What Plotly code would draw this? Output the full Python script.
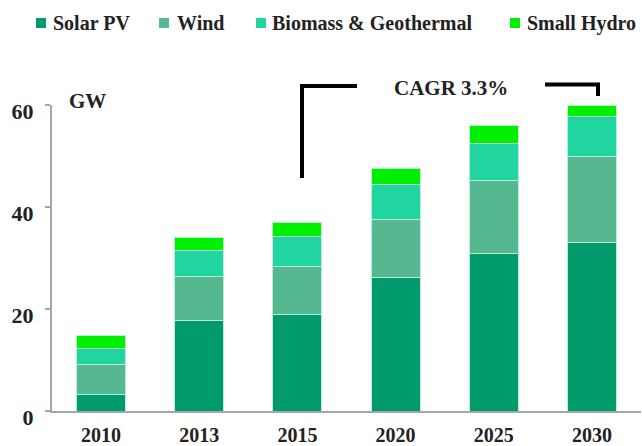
import plotly.graph_objects as go

years = ["2010", "2013", "2015", "2020", "2025", "2030"]
solar_pv = [3.3, 17.8, 19.0, 26.2, 30.8, 33.0]
wind = [5.9, 8.5, 9.3, 11.4, 14.4, 16.9]
biomass_geo = [3.0, 5.1, 6.0, 6.8, 7.3, 7.8]
small_hydro = [2.6, 2.7, 2.7, 3.2, 3.4, 2.3]

series_names = ["Solar PV", "Wind", "Biomass & Geothermal", "Small Hydro"]
series_values = [solar_pv, wind, biomass_geo, small_hydro]
series_colors = ["#009a6c", "#55b890", "#20d5a0", "#00f000"]

y_ticks = [0, 20, 40, 60]
unit_label = "GW"
cagr_label = "CAGR 3.3%"

FONT = "Liberation Serif, Times New Roman, serif"
TXT = "#222222"
AXIS = "#a6a6a6"
W, H = 642, 446
ML, MR, MT, MB = 52, 1, 105, 35
PW, PH = W - ML - MR, H - MT - MB


def px_x(p):
    return (p - ML) / PW


def px_y(p):
    return (H - MB - p) / PH


fig = go.Figure()
for name, vals, col in zip(series_names, series_values, series_colors):
    fig.add_trace(go.Bar(
        x=years, y=vals, name=name, showlegend=False,
        marker=dict(color=col, line=dict(color="#b8f0d6", width=1)),
    ))

fig.update_layout(
    width=W, height=H,
    margin=dict(l=ML, r=MR, t=MT, b=MB, autoexpand=False),
    paper_bgcolor="white", plot_bgcolor="white",
    barmode="stack", bargap=0.5,
    font=dict(family=FONT, color=TXT, weight="bold"),
    showlegend=False,
    xaxis=dict(
        type="category", showline=True, linecolor=AXIS, linewidth=2,
        showgrid=False, ticks="", ticklabelstandoff=5,
        tickfont=dict(family=FONT, size=20, color=TXT, weight="bold"),
    ),
    yaxis=dict(
        range=[0, 60], tickvals=y_ticks, showline=True, linecolor=AXIS,
        linewidth=2, showgrid=False, zeroline=False,
        ticks="outside", ticklen=5, tickcolor=AXIS, tickwidth=2,
        ticklabelstandoff=7, ticklabelshift=6,
        tickfont=dict(family=FONT, size=22, color=TXT, weight="bold"),
    ),
)

# Legend (swatches + labels) laid out along the top
legend_square_left = [36, 159, 256, 510]
legend_text_left = [51, 175, 270, 525]
for name, col, sx, tx in zip(series_names, series_colors, legend_square_left, legend_text_left):
    fig.add_shape(type="rect", xref="paper", yref="paper",
                  x0=px_x(sx), x1=px_x(sx + 10), y0=px_y(28), y1=px_y(18),
                  fillcolor=col, line=dict(width=0))
    fig.add_annotation(
        text=name, xref="paper", yref="paper", x=px_x(tx), y=px_y(23),
        xanchor="left", yanchor="middle", showarrow=False,
        font=dict(family=FONT, size=20, color=TXT, weight="bold"),
    )

# GW unit label
fig.add_annotation(
    text=unit_label, xref="paper", yref="paper", x=px_x(67), y=px_y(101),
    xanchor="left", yanchor="middle", showarrow=False,
    font=dict(family=FONT, size=21, color=TXT, weight="bold"),
)

# CAGR bracket
fig.add_shape(type="path", xref="paper", yref="paper",
              path=f"M {px_x(302)},{px_y(178)} L {px_x(302)},{px_y(86)} L {px_x(357)},{px_y(86)}",
              line=dict(color="black", width=4))
fig.add_shape(type="path", xref="paper", yref="paper",
              path=f"M {px_x(545)},{px_y(84.5)} L {px_x(598)},{px_y(84.5)} L {px_x(598)},{px_y(96)}",
              line=dict(color="black", width=4))
fig.add_annotation(
    text=cagr_label, xref="paper", yref="paper", x=px_x(451), y=px_y(88),
    xanchor="center", yanchor="middle", showarrow=False,
    font=dict(family=FONT, size=21, color=TXT, weight="bold"),
)

fig.write_html(
    "out.html",
    config={"displayModeBar": False},
    post_script="document.body.style.margin='0';document.body.style.overflow='hidden';",
)
